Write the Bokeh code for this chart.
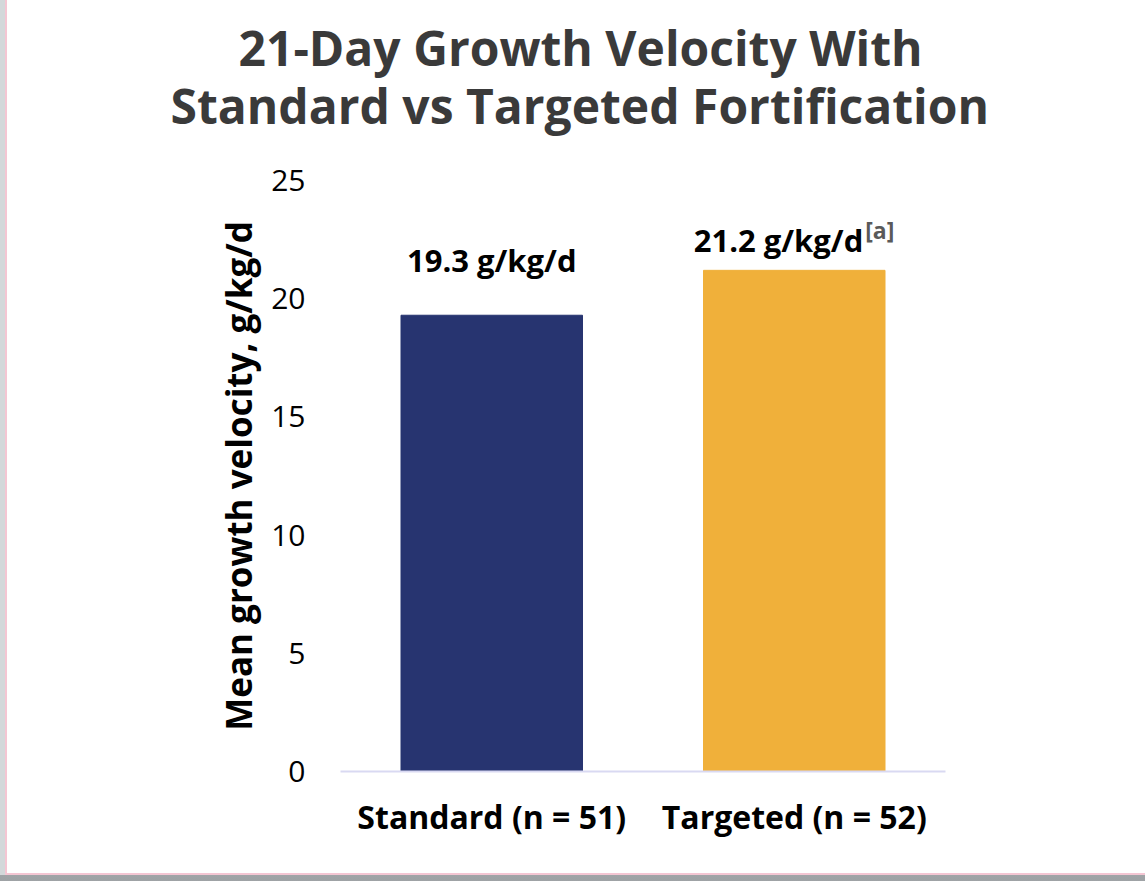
from bokeh.plotting import figure
from bokeh.models import ColumnDataSource, Title, FixedTicker
from bokeh.core.properties import value
from bokeh.embed import file_html
from bokeh.resources import INLINE

# ---- data ----
categories = ["Standard (n = 51)", "Targeted (n = 52)"]
growth_velocity = [19.3, 21.2]
bar_labels = ["19.3 g/kg/d", "21.2 g/kg/d"]
footnote = "[a]"
bar_colors = ["#273470", "#F0B03A"]
y_ticks = [0, 5, 10, 15, 20, 25]
title_lines = ["21-Day Growth Velocity With", "Standard vs Targeted Fortification"]
y_title = "Mean growth velocity, g/kg/d"

FONT = "Open Sans"

p = figure(
    x_range=categories, y_range=(0, 25),
    width=1145, height=881,
    output_backend="svg", toolbar_location=None, tools="",
    min_border_left=340, min_border_right=200,
    min_border_top=180, min_border_bottom=110,
)
p.styles = {
    "background": (
        "linear-gradient(to right, #d3d8da 0px, #d3d8da 5px, #f4c6d3 5px, #f4c6d3 7px, "
        "rgba(255,255,255,0) 7px) 0 0 / 100% 875px no-repeat, "
        "linear-gradient(to bottom, #ffffff 0px, #ffffff 873px, #f4c6d3 873px, #f4c6d3 875px, "
        "#a0a4a7 875px, #9ea2a5 881px)"
    )
}
p.x_range.range_padding = 0
p.background_fill_color = "white"
p.border_fill_color = None
p.outline_line_color = None
p.grid.visible = False

src = ColumnDataSource(dict(cat=categories, val=growth_velocity, color=bar_colors))
p.vbar(x="cat", top="val", width=0.6, color="color", source=src)

# value labels
p.text(x=[categories[0]], y=[growth_velocity[0]], text=[bar_labels[0]],
       text_align="center", text_baseline="alphabetic", y_offset=-55,
       text_font=value(FONT), text_font_style="bold", text_font_size="31px",
       text_color="#000000")
p.text(x=[categories[1]], y=[growth_velocity[1]], text=[bar_labels[1]],
       text_align="right", text_baseline="alphabetic", y_offset=-30, x_offset=69,
       text_font=value(FONT), text_font_style="bold", text_font_size="31px",
       text_color="#000000")
p.text(x=[categories[1]], y=[growth_velocity[1]], text=[footnote],
       text_align="left", text_baseline="alphabetic", y_offset=-40, x_offset=71,
       text_font=value(FONT), text_font_style="bold", text_font_size="23px",
       text_color="#5a5a5a")

# axes
xa = p.xaxis[0]
xa.axis_line_color = "#D9D9F2"
xa.axis_line_width = 2
xa.major_tick_line_color = None
xa.minor_tick_line_color = None
xa.major_label_standoff = 17
xa.major_label_text_font = FONT
xa.major_label_text_font_style = "bold"
xa.major_label_text_font_size = "32px"
xa.major_label_text_color = "#000000"

ya = p.yaxis[0]
ya.ticker = FixedTicker(ticks=y_ticks)
ya.axis_line_color = None
ya.major_tick_line_color = None
ya.minor_tick_line_color = None
ya.major_tick_out = 0
ya.major_label_standoff = 35
ya.major_label_text_font = FONT
ya.major_label_text_font_size = "30px"
ya.major_label_text_color = "#000000"
ya.axis_label = y_title
ya.axis_label_text_font = FONT
ya.axis_label_text_font_style = "bold"
ya.axis_label_text_font_size = "35px"
ya.axis_label_text_color = "#000000"
ya.axis_label_standoff = 6

# title lines: line 2 added first (closest to plot), then line 1 above it
p.add_layout(Title(text=title_lines[1], align="left", offset=-170, standoff=86,
                   vertical_align="bottom", text_font=FONT, text_font_style="bold",
                   text_font_size="48px", text_color="#3a3a3a"), "above")
p.add_layout(Title(text=title_lines[0], align="left", offset=-102, standoff=-104,
                   vertical_align="bottom", text_font=FONT, text_font_style="bold",
                   text_font_size="48px", text_color="#3a3a3a"), "above")

open("out.html", "w").write(file_html(p, INLINE))
